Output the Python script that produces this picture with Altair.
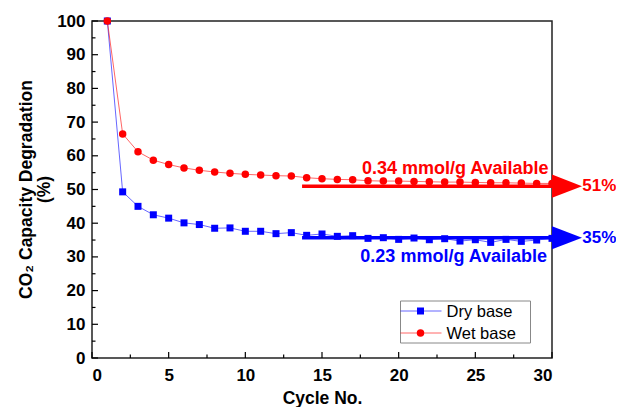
import altair as alt
import pandas as pd

# ---------------- data ----------------
cycles = list(range(1, 31))
dry_base = [100, 49.3, 45.0, 42.5, 41.5, 40.1, 39.6, 38.5, 38.6, 37.6,
            37.6, 36.9, 37.2, 36.4, 36.8, 36.1, 36.3, 35.5, 35.7, 35.2,
            35.6, 35.1, 35.4, 34.7, 35.1, 34.3, 35.2, 34.6, 35.0, 35.5]
wet_base = [100, 66.5, 61.2, 58.7, 57.4, 56.4, 55.7, 55.2, 54.8, 54.5,
            54.3, 54.1, 54.0, 53.5, 53.2, 53.0, 52.9, 52.6, 52.5, 52.5,
            52.4, 52.3, 52.2, 52.2, 52.1, 52.0, 52.0, 51.9, 51.8, 51.8]

# annotation arrows: start cycle, end cycle, level
arrow_start = [13.7, 13.7]
arrow_end = [30, 30]
arrow_level = [51.0, 35.7]
arrow_color = ["#ff0000", "#0000ff"]
arrow_tip_x = [30.98, 30.98]
pct_labels = ["51%", "35%"]
pct_x = [31.98, 31.98]

avail_labels = ["0.34 mmol/g Available", "0.23 mmol/g Available"]
avail_x = [29.78, 29.68]
avail_y = [54.7, 28.6]

x_major = [0, 5, 10, 15, 20, 25, 30]
x_minor = [2.5, 7.5, 12.5, 17.5, 22.5, 27.5]
y_major = list(range(0, 101, 10))
y_minor = list(range(5, 100, 10))

legend_labels = ["Dry base", "Wet base"]

FONT = "Liberation Sans"
W, H = 460, 337

dry_df = pd.DataFrame({"cycle": cycles, "value": dry_base})
wet_df = pd.DataFrame({"cycle": cycles, "value": wet_base})
arrow_df = pd.DataFrame({"x": arrow_start, "x2": arrow_end, "y": arrow_level,
                         "tip": arrow_tip_x, "color": arrow_color,
                         "pct": pct_labels, "px": pct_x})
avail_df = pd.DataFrame({"label": avail_labels, "x": avail_x, "y": avail_y,
                         "color": arrow_color})

xs = alt.Scale(domain=[0, 30], nice=False, zero=False)
ys = alt.Scale(domain=[0, 100], nice=False, zero=False)

X_AX = alt.Axis(values=x_major, ticks=False, domain=False, grid=False,
                labelFont=FONT, labelFontSize=17, labelFontWeight="bold",
                labelColor="black", labelPadding=9, labelOverlap=False,
                title="Cycle No.", titleFont=FONT, titleFontSize=17.5,
                titleFontWeight="bold", titleColor="black",
                titleBaseline="alphabetic", titleY=45)
Y_AX = alt.Axis(values=y_major, ticks=False, domain=False, grid=False,
                labelFont=FONT, labelFontSize=17, labelFontWeight="bold",
                labelColor="black", labelPadding=7, labelOverlap=False,
                title=["CO₂ Capacity Degradation", "(%)"], titleFont=FONT,
                titleFontSize=17.5, titleFontWeight="bold", titleColor="black",
                titleAngle=-90, titleBaseline="bottom", titleAlign="center",
                titleX=-57, titleY=168, titleLineHeight=18)

NX = lambda f: alt.X(f, scale=xs, axis=X_AX)
NY = lambda f: alt.Y(f, scale=ys, axis=Y_AX)

dry_line = alt.Chart(dry_df).mark_line(color="#0000ff", strokeWidth=1,
                                       opacity=0.6).encode(
    x=NX("cycle:Q"), y=NY("value:Q"))
dry_pts = alt.Chart(dry_df).mark_point(shape="square", filled=True, size=49,
                                       color="#0000ff", opacity=1).encode(
    x=NX("cycle:Q"), y=NY("value:Q"))
wet_line = alt.Chart(wet_df).mark_line(color="#ff0000", strokeWidth=1,
                                       opacity=0.6).encode(
    x=NX("cycle:Q"), y=NY("value:Q"))
wet_pts = alt.Chart(wet_df).mark_point(shape="circle", filled=True, size=56,
                                       color="#ff0000", opacity=1).encode(
    x=NX("cycle:Q"), y=NY("value:Q"))

shafts = alt.Chart(arrow_df).mark_rule(strokeWidth=3.5, clip=False).encode(
    x=NX("x:Q"), x2="x2:Q", y=NY("y:Q"), color=alt.Color("color:N", scale=None))
tips = alt.Chart(arrow_df).mark_point(
    shape="M-1,-0.77L1,0L-1,0.77Z", size=900, filled=True, opacity=1,
    clip=False).encode(x=NX("tip:Q"), y=NY("y:Q"),
                       color=alt.Color("color:N", scale=None))
pct = alt.Chart(arrow_df).mark_text(
    font=FONT, fontSize=17, fontWeight="bold", align="left",
    baseline="middle", clip=False).encode(
    x=NX("px:Q"), y=NY("y:Q"), text="pct:N", color=alt.Color("color:N", scale=None))
avail = alt.Chart(avail_df).mark_text(
    font=FONT, fontSize=18, fontWeight="bold", align="right",
    baseline="alphabetic", clip=False).encode(
    x=NX("x:Q"), y=NY("y:Q"), text="label:N", color=alt.Color("color:N", scale=None))

# inward ticks
xt_major = alt.Chart(pd.DataFrame({"t": x_major})).mark_rule(
    color="black", strokeWidth=1.2).encode(x=NX("t:Q"), y=alt.value(H), y2=alt.value(H - 6))
xt_minor = alt.Chart(pd.DataFrame({"t": x_minor})).mark_rule(
    color="black", strokeWidth=1.2).encode(x=NX("t:Q"), y=alt.value(H), y2=alt.value(H - 3.5))
yt_major = alt.Chart(pd.DataFrame({"t": y_major})).mark_rule(
    color="black", strokeWidth=1.2).encode(y=NY("t:Q"), x=alt.value(0), x2=alt.value(6))
yt_minor = alt.Chart(pd.DataFrame({"t": y_minor})).mark_rule(
    color="black", strokeWidth=1.2).encode(y=NY("t:Q"), x=alt.value(0), x2=alt.value(3.5))

# legend
LX0, LX1, LY0, LY1 = 308.5, 438.5, 280, 322
ROW = [290, 312]
leg_df = pd.DataFrame({"label": legend_labels})
leg_box = alt.Chart(leg_df.head(1)).mark_rect(
    fill="white", stroke="#888888", strokeWidth=1).encode(
    x=alt.value(LX0), x2=alt.value(LX1), y=alt.value(LY0), y2=alt.value(LY1))
leg_layers = [leg_box]
for i, (lab, col, shp, sz) in enumerate(zip(legend_labels, ["#0000ff", "#ff0000"],
                                            ["square", "circle"], [49, 56])):
    d = leg_df.iloc[[i]]
    leg_layers.append(alt.Chart(d).mark_rule(color=col, strokeWidth=1, opacity=0.6).encode(
        x=alt.value(LX0), x2=alt.value(LX0 + 41), y=alt.value(ROW[i])))
    leg_layers.append(alt.Chart(d).mark_point(shape=shp, size=sz, filled=True,
                                              color=col, opacity=1).encode(
        x=alt.value(LX0 + 20), y=alt.value(ROW[i])))
    leg_layers.append(alt.Chart(d).mark_text(font=FONT, fontSize=16.5, align="left",
                                             baseline="middle", color="black").encode(
        x=alt.value(LX0 + 46), y=alt.value(ROW[i] + 1), text="label:N"))

chart = alt.layer(
    dry_line, xt_major, xt_minor, yt_major, yt_minor,
    dry_pts, shafts, wet_line, wet_pts, tips, pct, avail,
    *leg_layers
).properties(
    width=W, height=H,
    autosize=alt.AutoSizeParams(type="none"),
    padding={"left": 84, "top": 13, "right": 64, "bottom": 60},
    background="white",
).configure_view(
    stroke="#222222", strokeWidth=1.5
)

chart.save("out.html", embed_options={"renderer": "svg", "actions": False})
